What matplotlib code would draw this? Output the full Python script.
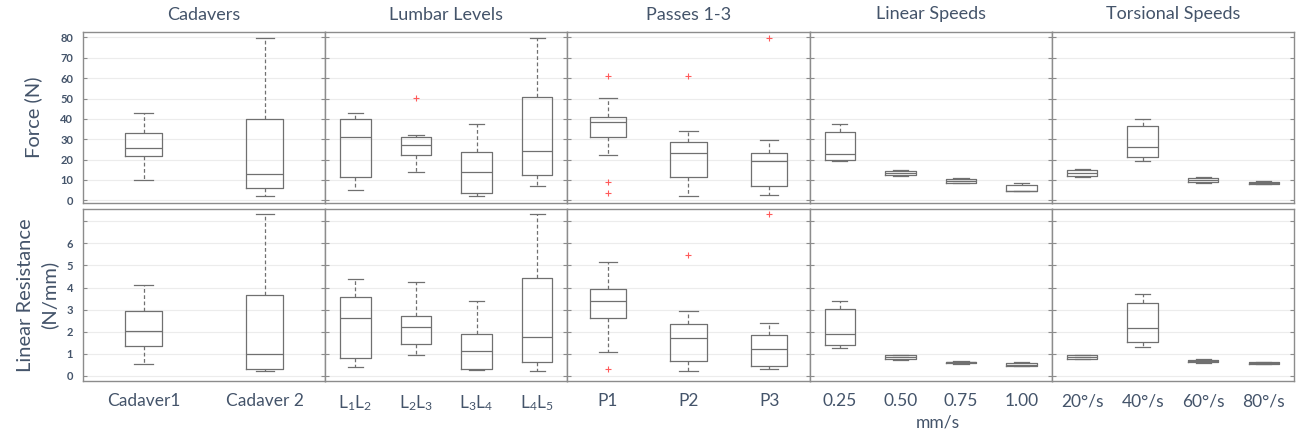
import matplotlib
matplotlib.use("Agg")
import matplotlib.pyplot as plt

# Data ..................................................................

TITLES = ["Cadavers", "Lumbar Levels", "Passes 1-3", "Linear Speeds", "Torsional Speeds"]
LABELS = [
    ["Cadaver1", "Cadaver 2"],
    [r"$\mathregular{L_1L_2}$", r"$\mathregular{L_2L_3}$", r"$\mathregular{L_3L_4}$", r"$\mathregular{L_4L_5}$"],
    ["P1", "P2", "P3"],
    ["0.25", "0.50", "0.75", "1.00"],
    ["20°/s", "40°/s", "60°/s", "80°/s"],
]

# Force (N): 17 boxes, order = panels left to right
F_LO  = [10.2, 2.1,  5.3, 14.1, 2.3, 6.9,  22.3, 2.1, 2.5,  19.2, 12.2, 8.5, 4.6,  11.7, 19.5, 8.5, 8.0]
F_Q1  = [22.0, 5.9,  11.3, 22.5, 3.4, 12.6,  30.9, 11.3, 7.2,  19.9, 12.5, 8.7, 4.6,  11.8, 21.3, 8.9, 8.2]
F_MED = [25.5, 13.1,  30.9, 27.3, 14.0, 24.3,  38.6, 23.5, 19.5,  22.8, 13.5, 9.7, 4.8,  13.6, 26.3, 10.2, 8.7]
F_Q3  = [33.2, 39.9,  39.9, 30.9, 23.8, 50.7,  41.1, 28.7, 23.3,  33.8, 14.6, 10.7, 7.6,  14.8, 36.6, 11.2, 9.2]
F_HI  = [42.7, 79.6,  42.9, 32.3, 37.6, 79.6,  50.2, 34.0, 29.7,  37.6, 14.9, 11.2, 8.4,  15.6, 40.1, 11.5, 9.4]
F_OUT = [[], [],  [], [50.1], [], [],  [61.1, 8.9, 3.6], [61.2], [79.6],  [], [], [], [],  [], [], [], []]

# Linear resistance (N/mm)
R_LO  = [0.54, 0.20,  0.39, 0.96, 0.26, 0.20,  1.06, 0.20, 0.30,  1.27, 0.74, 0.56, 0.45,  0.75, 1.33, 0.60, 0.54]
R_Q1  = [1.36, 0.33,  0.80, 1.45, 0.32, 0.62,  2.61, 0.68, 0.45,  1.42, 0.77, 0.57, 0.45,  0.77, 1.52, 0.62, 0.56]
R_MED = [2.02, 1.01,  2.61, 2.23, 1.15, 1.75,  3.41, 1.70, 1.21,  1.90, 0.84, 0.62, 0.50,  0.84, 2.16, 0.68, 0.59]
R_Q3  = [2.92, 3.68,  3.59, 2.73, 1.90, 4.42,  3.95, 2.37, 1.84,  3.02, 0.93, 0.65, 0.59,  0.93, 3.32, 0.74, 0.62]
R_HI  = [4.13, 7.31,  4.37, 4.27, 3.38, 7.31,  5.14, 2.92, 2.41,  3.38, 0.96, 0.66, 0.62,  0.96, 3.69, 0.75, 0.63]
R_OUT = [[], [],  [], [], [], [],  [0.32], [5.49], [7.31],  [], [], [], [],  [], [], [], []]

# Style ...........................................................................................

TXT = '#44546A'
LINE = '#707070'
FRAME = '#8c8c8c'
BOX_W = [0.30, 0.50, 0.45, 0.50, 0.50]

plt.rcParams['font.family'] = ['Lato', 'DejaVu Sans']
plt.rcParams['mathtext.fontset'] = 'custom'
plt.rcParams['mathtext.rm'] = 'Lato'

fig = plt.figure(figsize = (13.08, 4.37), dpi = 100)
W, H = 1308, 437

x0, pw = 83, 242.2
rows = [(32, 203), (209.3, 381)]

def make_stats(lo, q1, med, q3, hi, out, idx):
    return [dict(whislo = lo[i], q1 = q1[i], med = med[i], q3 = q3[i], whishi = hi[i], fliers = out[i]) for i in idx]

start = 0
for p, labels in enumerate(LABELS):
    n = len(labels)
    idx = list(range(start, start + n))
    start += n

    for r, (top, bot) in enumerate(rows):
        ax = fig.add_axes([(x0 + p * pw) / W, 1 - bot / H, pw / W, (bot - top) / H])
        if r == 0:
            stats = make_stats(F_LO, F_Q1, F_MED, F_Q3, F_HI, F_OUT, idx)
        else:
            stats = make_stats(R_LO, R_Q1, R_MED, R_Q3, R_HI, R_OUT, idx)

        ax.bxp(stats, positions = range(1, n + 1), widths = BOX_W[p], showfliers = True,
               boxprops = dict(color = LINE, lw = 0.9),
               medianprops = dict(color = LINE, lw = 0.9),
               whiskerprops = dict(color = LINE, lw = 0.9, ls = (0, (3, 2))),
               capprops = dict(color = LINE, lw = 0.9),
               flierprops = dict(marker = '+', markeredgecolor = '#ff5a5a', markersize = 4, markeredgewidth = 0.8))

        ax.set_xlim(0.5, n + 0.5)
        if r == 0:
            ax.set_ylim(-1.3, 82.7)
            ax.set_yticks(range(0, 81, 10))
            ax.set_title(TITLES[p], fontsize = 13, color = TXT, pad = 9)
            ax.set_xticks([])
        else:
            ax.set_ylim(-0.23, 7.54)
            ax.set_yticks(range(0, 8))
            ax.set_xticks(range(1, n + 1))
            ax.set_xticklabels(labels, fontsize = 12.5, color = TXT)
            ax.tick_params(axis = 'x', length = 0, pad = 9)

        ax.grid(axis = 'y', color = '#ececec', lw = 0.8)
        ax.set_axisbelow(True)
        ax.tick_params(axis = 'y', direction = 'in', left = True, right = True, length = 3, color = FRAME, pad = 7)
        for s in ax.spines.values():
            s.set_color(FRAME)
            s.set_linewidth(1.0)

        if p == 0:
            if r == 0:
                ax.set_yticklabels([str(v) for v in range(0, 81, 10)])
                ax.set_ylabel('Force (N)', fontsize = 14.5, color = TXT, labelpad = 13)
            else:
                ax.set_yticklabels([str(v) for v in range(0, 7)] + [''])
                ax.set_ylabel('Linear Resistance\n(N/mm)', fontsize = 14.5, color = TXT, labelpad = 6, linespacing = 1.45)
            for t in ax.get_yticklabels():
                t.set_fontsize(8)
                t.set_fontweight('bold')
                t.set_color(TXT)
        else:
            ax.set_yticklabels([])

fig.text(938 / W, 1 - 423 / H, 'mm/s', ha = 'center', va = 'center', fontsize = 12.5, color = TXT)

plt.savefig('out.png', dpi = 100)
